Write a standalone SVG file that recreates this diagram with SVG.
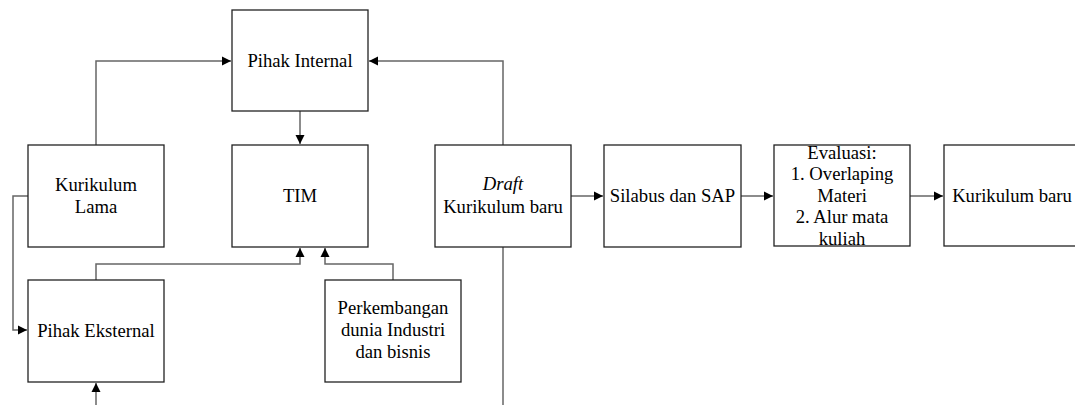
<svg xmlns="http://www.w3.org/2000/svg" width="1075" height="405" viewBox="0 0 1075 405">
<style>
.box{fill:#fff;stroke:#222;stroke-width:1.3}
.t{font-size:18.67px;fill:#000;text-anchor:middle}
.c{fill:none;stroke:#666;stroke-width:1.5}
</style>
<defs>
<marker id="ah" markerUnits="userSpaceOnUse" markerWidth="10" markerHeight="10" viewBox="0 0 10 10" refX="9" refY="5" orient="auto">
<path d="M0,0.5 L9,5 L0,9.5 z" fill="#000"/>
</marker>
</defs>
<rect width="1075" height="405" fill="#fff"/>
<g id="connectors">
<polyline class="c" points="96,145 96,61 231,61" marker-end="url(#ah)"/>
<polyline class="c" points="300,111 300,144" marker-end="url(#ah)"/>
<polyline class="c" points="503,145 503,61 369,61" marker-end="url(#ah)"/>
<polyline class="c" points="503,247 503,405"/>
<polyline class="c" points="96,405 96,383" marker-end="url(#ah)"/>
<polyline class="c" points="28,196 13,196 13,330 27,330" marker-end="url(#ah)"/>
<polyline class="c" points="96,280 96,264 300,264 300,248" marker-end="url(#ah)"/>
<polyline class="c" points="393,280 393,264 325,264 325,248" marker-end="url(#ah)"/>
<polyline class="c" points="571,196 603,196" marker-end="url(#ah)"/>
<polyline class="c" points="741,196 773,196" marker-end="url(#ah)"/>
<polyline class="c" points="910,196 943,196" marker-end="url(#ah)"/>
</g>
<g font-family="Liberation Serif, Times New Roman, serif">
<g id="pihak-internal">
<rect class="box" x="232" y="10" width="136" height="101"/>
<text class="t" x="300" y="67">Pihak Internal</text>
</g>
<g id="kurikulum-lama">
<rect class="box" x="28" y="145" width="136" height="102"/>
<text class="t" x="96" y="191">Kurikulum</text>
<text class="t" x="96" y="213">Lama</text>
</g>
<g id="tim">
<rect class="box" x="232" y="145" width="136" height="102"/>
<text class="t" x="300" y="202">TIM</text>
</g>
<g id="pihak-eksternal">
<rect class="box" x="28" y="280" width="136" height="102"/>
<text class="t" x="96" y="337">Pihak Eksternal</text>
</g>
<g id="perkembangan">
<rect class="box" x="325" y="280" width="136" height="102"/>
<text class="t" x="393" y="314">Perkembangan</text>
<text class="t" x="393" y="336">dunia Industri</text>
<text class="t" x="393" y="358">dan bisnis</text>
</g>
<g id="draft">
<rect class="box" x="435" y="145" width="136" height="102"/>
<text class="t" x="503" y="190" font-style="italic">Draft</text>
<text class="t" x="503" y="213">Kurikulum baru</text>
</g>
<g id="silabus">
<rect class="box" x="604" y="145" width="137" height="102"/>
<text class="t" x="672.5" y="202">Silabus dan SAP</text>
</g>
<g id="evaluasi">
<rect class="box" x="774" y="145" width="136" height="101"/>
<text class="t" x="842" y="158.5">Evaluasi:</text>
<text class="t" x="842" y="180">1. Overlaping</text>
<text class="t" x="842" y="201.5">Materi</text>
<text class="t" x="842" y="223">2. Alur mata</text>
<text class="t" x="842" y="244.5">kuliah</text>
</g>
<g id="kurikulum-baru">
<rect class="box" x="944" y="145" width="136" height="101"/>
<text class="t" x="1012" y="202">Kurikulum baru</text>
</g>
</g>
</svg>
